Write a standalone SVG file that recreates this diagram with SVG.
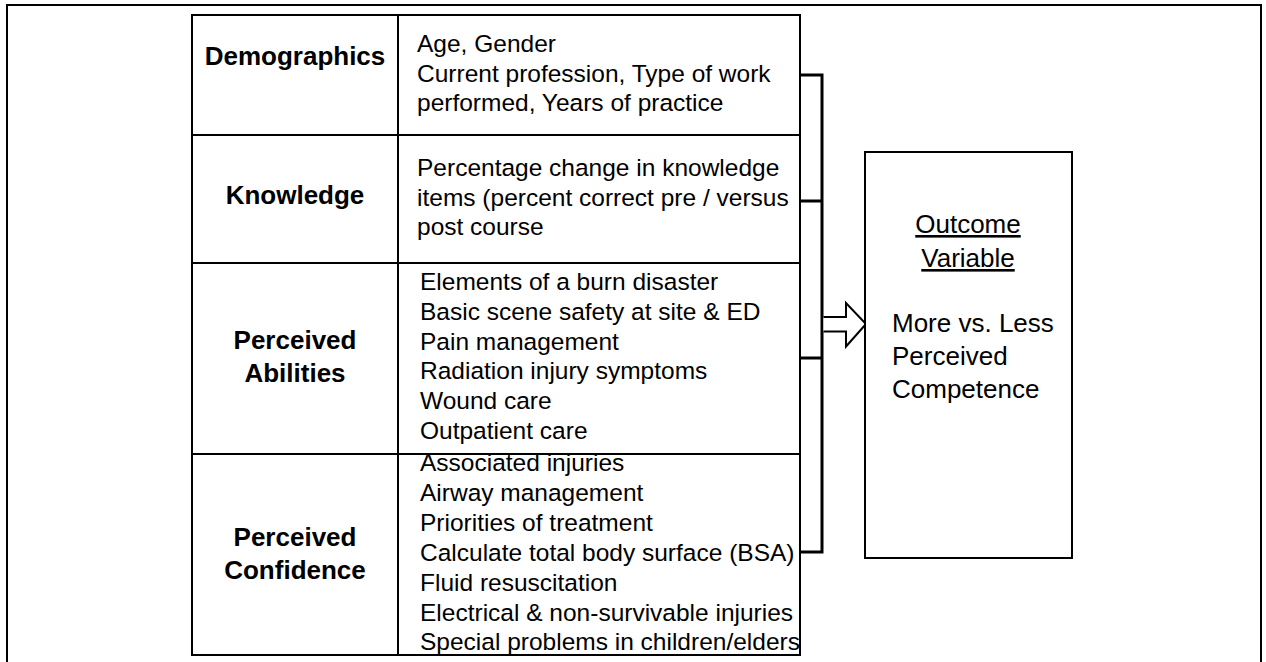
<svg xmlns="http://www.w3.org/2000/svg" width="1266" height="662" viewBox="0 0 1266 662">
  <style>
    .frame { fill: none; stroke: #000; stroke-width: 2; }
    .cell { fill: #fff; stroke: #000; stroke-width: 2; }
    .head { font-family: "Liberation Sans", Arial, sans-serif; font-weight: bold; font-size: 26px; fill: #000; text-anchor: middle; }
    .item { font-family: "Liberation Sans", Arial, sans-serif; font-size: 24.5px; fill: #000; }
    .out { font-family: "Liberation Sans", Arial, sans-serif; font-size: 26px; fill: #000; }
    .link { fill: none; stroke: #000; stroke-width: 3; }
  </style>

  <rect width="1266" height="662" fill="#fff"/>

  <!-- outer border, open at the bottom -->
  <path class="frame" d="M7,662 V5 H1261 V662"/>

  <!-- predictor rows -->
  <g id="demographics">
    <rect class="cell" x="192" y="15" width="206" height="120"/>
    <rect class="cell" x="398" y="15" width="402" height="120"/>
    <text class="head" x="295" y="65">Demographics</text>
    <text class="item" x="417" y="52">Age, Gender</text>
    <text class="item" x="417" y="81.5">Current profession, Type of work</text>
    <text class="item" x="417" y="111">performed, Years of practice</text>
  </g>

  <g id="knowledge">
    <rect class="cell" x="192" y="135" width="206" height="128"/>
    <rect class="cell" x="398" y="135" width="402" height="128"/>
    <text class="head" x="295" y="204">Knowledge</text>
    <text class="item" x="417" y="176">Percentage change in knowledge</text>
    <text class="item" x="417" y="205.5">items (percent correct pre / versus</text>
    <text class="item" x="417" y="235">post course</text>
  </g>

  <g id="perceived-abilities">
    <rect class="cell" x="192" y="263" width="206" height="191"/>
    <rect class="cell" x="398" y="263" width="402" height="191"/>
    <text class="head" x="295" y="349">Perceived</text>
    <text class="head" x="295" y="382">Abilities</text>
    <text class="item" x="420" y="290">Elements of a burn disaster</text>
    <text class="item" x="420" y="320">Basic scene safety at site &amp; ED</text>
    <text class="item" x="420" y="349.5">Pain management</text>
    <text class="item" x="420" y="379">Radiation injury symptoms</text>
    <text class="item" x="420" y="409">Wound care</text>
    <text class="item" x="420" y="439">Outpatient care</text>
  </g>

  <g id="perceived-confidence">
    <rect class="cell" x="192" y="454" width="206" height="201"/>
    <rect class="cell" x="398" y="454" width="402" height="201"/>
    <text class="head" x="295" y="546">Perceived</text>
    <text class="head" x="295" y="579">Confidence</text>
    <text class="item" x="420" y="471">Associated injuries</text>
    <text class="item" x="420" y="501">Airway management</text>
    <text class="item" x="420" y="531">Priorities of treatment</text>
    <text class="item" x="420" y="561">Calculate total body surface (BSA)</text>
    <text class="item" x="420" y="591">Fluid resuscitation</text>
    <text class="item" x="420" y="621">Electrical &amp; non-survivable injuries</text>
    <text class="item" x="420" y="650">Special problems in children/elders</text>
  </g>

  <!-- bracket joining the rows, and the block arrow into the outcome -->
  <g id="connectors">
    <path class="link" d="M800,75 H822 M800,201 H822 M800,358 H822 M800,552 H822 M822,73.5 V553.5"/>
    <path fill="#fff" stroke="#000" stroke-width="2" stroke-linejoin="miter" d="M823.5,317 H846 V303 L866,324 L846,346.5 V331.5 H823.5"/>
  </g>

  <g id="outcome">
    <rect class="cell" x="865" y="152" width="207" height="406"/>
    <text class="out" x="968" y="233" text-anchor="middle" text-decoration="underline">Outcome</text>
    <text class="out" x="968" y="267" text-anchor="middle" text-decoration="underline">Variable</text>
    <text class="out" x="892" y="332">More vs. Less</text>
    <text class="out" x="892" y="365">Perceived</text>
    <text class="out" x="892" y="398">Competence</text>
  </g>
</svg>
